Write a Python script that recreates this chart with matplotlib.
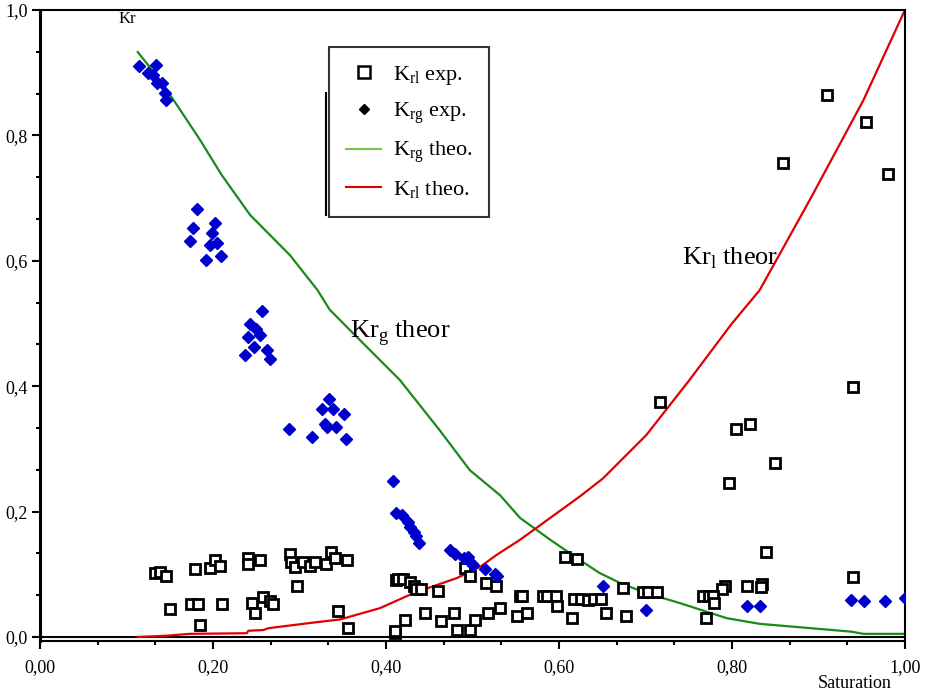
import matplotlib
matplotlib.use("Agg")
import matplotlib.pyplot as plt
from matplotlib.lines import Line2D
from matplotlib.ticker import MultipleLocator, FuncFormatter

plt.rcParams['font.family'] = ['Liberation Serif', 'DejaVu Serif']

# Krl theoretical curve
krl_theo_x = [0.113, 0.146, 0.173, 0.239, 0.241, 0.258, 0.264, 0.316, 0.347, 0.393, 0.432,
              0.482, 0.509, 0.528, 0.555, 0.590, 0.624, 0.651, 0.701, 0.751, 0.800, 0.832,
              0.890, 0.952, 1.0]
krl_theo_y = [0.0, 0.002, 0.005, 0.006, 0.010, 0.011, 0.014, 0.023, 0.028, 0.046, 0.070,
              0.094, 0.112, 0.131, 0.155, 0.190, 0.224, 0.253, 0.322, 0.410, 0.500, 0.553,
              0.697, 0.856, 1.0]

# Krg theoretical curve
krg_theo_x = [0.113, 0.139, 0.160, 0.185, 0.210, 0.243, 0.289, 0.321, 0.335, 0.358, 0.416,
              0.462, 0.497, 0.532, 0.555, 0.590, 0.624, 0.647, 0.671, 0.701, 0.740, 0.794,
              0.832, 0.938, 0.952, 1.0]
krg_theo_y = [0.933, 0.888, 0.845, 0.793, 0.737, 0.673, 0.609, 0.553, 0.522, 0.490, 0.410,
              0.330, 0.266, 0.226, 0.190, 0.155, 0.123, 0.102, 0.086, 0.070, 0.054, 0.030,
              0.021, 0.0085, 0.005, 0.005]

# Krg experimental points
krg_exp_x = [0.114, 0.125, 0.134, 0.131, 0.135, 0.141, 0.145, 0.146,
             0.182, 0.177, 0.202, 0.199, 0.173, 0.196, 0.205, 0.209, 0.192,
             0.257, 0.243, 0.250, 0.254, 0.240, 0.247, 0.237, 0.262, 0.266,
             0.334, 0.326, 0.339, 0.352, 0.329, 0.332, 0.342, 0.288, 0.314, 0.354,
             0.408, 0.412, 0.419, 0.426, 0.428, 0.432, 0.435, 0.438,
             0.474, 0.480, 0.490, 0.495, 0.499, 0.501, 0.514, 0.526, 0.528,
             0.651, 0.701, 0.818, 0.832, 0.938, 0.953, 0.977, 1.0]
krg_exp_y = [0.911, 0.899, 0.913, 0.896, 0.884, 0.883, 0.867, 0.856,
             0.682, 0.652, 0.661, 0.645, 0.631, 0.626, 0.629, 0.607, 0.602,
             0.520, 0.500, 0.492, 0.482, 0.478, 0.462, 0.450, 0.457, 0.444,
             0.379, 0.363, 0.363, 0.356, 0.339, 0.335, 0.335, 0.332, 0.319, 0.316,
             0.249, 0.198, 0.194, 0.184, 0.176, 0.168, 0.161, 0.150,
             0.139, 0.133, 0.126, 0.128, 0.117, 0.115, 0.108, 0.101, 0.097,
             0.081, 0.043, 0.049, 0.049, 0.059, 0.058, 0.058, 0.062]

# Krl experimental points
krl_exp_x = [0.133, 0.139, 0.146, 0.179, 0.197, 0.202, 0.208, 0.241, 0.241, 0.254,
             0.289, 0.290, 0.295, 0.304, 0.312, 0.318, 0.331, 0.337, 0.341, 0.355,
             0.297, 0.150, 0.175, 0.183, 0.211, 0.245, 0.258, 0.266, 0.269, 0.249,
             0.185, 0.345, 0.356, 0.412, 0.410,
             0.414, 0.420, 0.428, 0.432, 0.435, 0.441, 0.460, 0.491, 0.497, 0.516,
             0.527, 0.607, 0.621, 0.445, 0.464, 0.479, 0.422, 0.411, 0.482, 0.497,
             0.503, 0.518, 0.532, 0.551, 0.563, 0.555, 0.557, 0.582, 0.586, 0.597,
             0.598, 0.617, 0.626, 0.634, 0.640, 0.649, 0.615, 0.654, 0.678, 0.674,
             0.697, 0.703, 0.713,
             0.940, 0.821, 0.805, 0.850, 0.797, 0.839, 0.940, 0.818, 0.792, 0.788,
             0.835, 0.834, 0.767, 0.774, 0.778, 0.779, 0.770, 0.717,
             0.910, 0.955, 0.980, 0.859]
krl_exp_y = [0.102, 0.104, 0.097, 0.108, 0.110, 0.122, 0.113, 0.126, 0.116, 0.122,
             0.133, 0.120, 0.112, 0.119, 0.113, 0.120, 0.117, 0.136, 0.126, 0.122,
             0.082, 0.045, 0.053, 0.053, 0.053, 0.055, 0.064, 0.058, 0.053, 0.038,
             0.019, 0.042, 0.014, 0.091, 0.007,
             0.092, 0.093, 0.088, 0.081, 0.077, 0.077, 0.074, 0.110, 0.097, 0.086,
             0.081, 0.128, 0.124, 0.039, 0.025, 0.039, 0.027, 0.009, 0.011, 0.011,
             0.027, 0.039, 0.046, 0.033, 0.039, 0.065, 0.065, 0.065, 0.065, 0.065,
             0.049, 0.061, 0.061, 0.059, 0.061, 0.061, 0.031, 0.038, 0.033, 0.078,
             0.072, 0.072, 0.071,
             0.398, 0.340, 0.332, 0.277, 0.246, 0.136, 0.095, 0.081, 0.081, 0.077,
             0.084, 0.080, 0.065, 0.065, 0.065, 0.054, 0.031, 0.375,
             0.864, 0.822, 0.739, 0.756]

x_ticks = [0.0, 0.2, 0.4, 0.6, 0.8, 1.0]
y_ticks = [0.0, 0.2, 0.4, 0.6, 0.8, 1.0]

green = '#1A8A1A'
red = '#E00000'
blue = '#0000CC'

fig = plt.figure(figsize=(9.30, 6.92), dpi=100)
ax = fig.add_axes([0.043, 0.0737, 0.930, 0.9118])

ax.plot(krg_theo_x, krg_theo_y, color=green, lw=1.6, zorder=2)
ax.plot(krl_theo_x, krl_theo_y, color=red, lw=1.6, zorder=2)
ax.plot(krl_exp_x, krl_exp_y, 's', ms=7.2, mfc='white', mec='black', mew=2.0,
        ls='none', zorder=3)
ax.plot(krg_exp_x, krg_exp_y, 'D', ms=6.2, mfc=blue, mec=blue, ls='none', zorder=4)

ax.axhline(0, color='black', lw=1.5, zorder=1)

ax.set_xlim(0, 1.0)
ax.set_ylim(-0.0064, 1.0)

ax.set_xticks(x_ticks)
ax.set_yticks(y_ticks)
ax.xaxis.set_minor_locator(MultipleLocator(0.2 / 3))
ax.yaxis.set_minor_locator(MultipleLocator(0.2 / 3))
ax.xaxis.set_major_formatter(FuncFormatter(lambda v, p: f"{v:.2f}".replace('.', ',')))
ax.yaxis.set_major_formatter(FuncFormatter(lambda v, p: f"{v:.1f}".replace('.', ',')))
ax.tick_params(which='major', direction='out', length=6, width=1.5, labelsize=13, pad=3)
ax.tick_params(which='minor', direction='out', length=3, width=1.5)
ax.tick_params(axis='x', pad=7)

for side in ['top', 'right', 'bottom']:
    ax.spines[side].set_linewidth(1.5)
ax.spines['left'].set_linewidth(2.2)

ax.text(0.101, 0.985, 'Kr', fontsize=12, ha='center', va='center')
fig.text(0.919, 0.013, 'Saturation', fontsize=13, ha='center', va='center')

ax.text(0.417, 0.485, r'Kr$_\mathregular{g}$ theor', fontsize=19, ha='center', va='center')
ax.text(0.798, 0.604, r'Kr$_\mathregular{l}$ theor', fontsize=19, ha='center', va='center')

handles = [
    Line2D([], [], marker='s', ms=9, mfc='white', mec='black', mew=1.8, ls='none'),
    Line2D([], [], marker='D', ms=5, mfc='black', mec='black', ls='none'),
    Line2D([], [], color='#7CC24A', lw=1.5),
    Line2D([], [], color=red, lw=1.5),
]
labels = [r'$\mathregular{K_{rl}}$ exp.', r'$\mathregular{K_{rg}}$ exp.',
          r'$\mathregular{K_{rg}}$ theo.', r'$\mathregular{K_{rl}}$ theo.']
leg = fig.legend(handles, labels, loc='upper left', bbox_to_anchor=(0.354, 0.932),
                 borderaxespad=0, fontsize=16, frameon=True, fancybox=False,
                 edgecolor='black', handlelength=1.6, handletextpad=0.5,
                 borderpad=0.75, labelspacing=0.62)
leg.get_frame().set_linewidth(1.5)

# offset edge on the left of the legend box, as in the original
fig.add_artist(Line2D([326 / 930, 326 / 930], [1 - 93 / 692, 1 - 215 / 692],
                      color='black', lw=1.5))

fig.savefig('out.png', dpi=100)
